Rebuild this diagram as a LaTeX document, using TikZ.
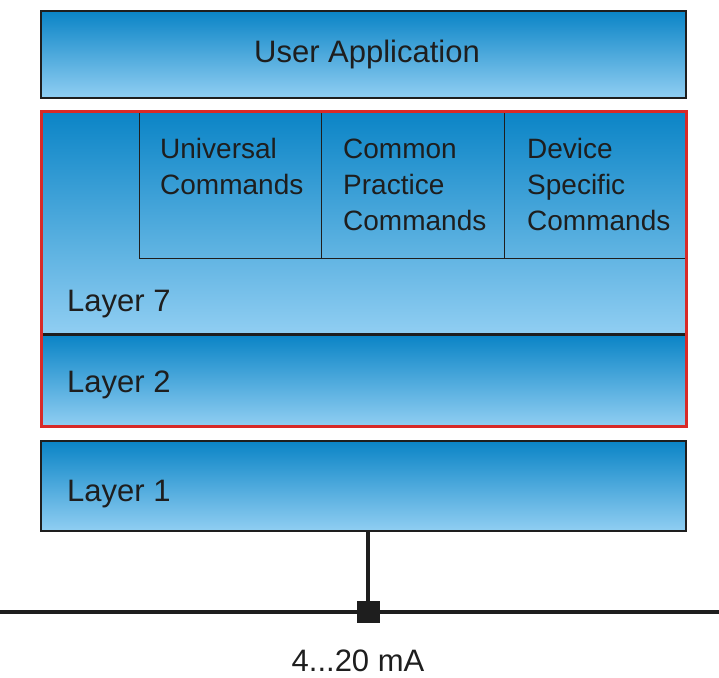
\documentclass[tikz,border=0pt]{standalone}
\usepackage{fontspec}
\setmainfont{Liberation Sans}
\definecolor{topblue}{HTML}{0A84C6}
\definecolor{botblue}{HTML}{90CEF2}
\definecolor{edge}{HTML}{1E1E1E}
\definecolor{redframe}{HTML}{D82A28}
\newcommand{\firstline}{\rule{0pt}{25pt}}
\tikzset{
  layerbox/.style={draw=edge, line width=1.6pt, top color=topblue, bottom color=botblue, anchor=north west, inner sep=0pt, minimum width=#1},
  cmdbox/.style={draw=edge, line width=1.3pt, anchor=north west, inner sep=0pt},
  lbl/.style={inner sep=0pt, font=\fontsize{31}{36}\selectfont, text=edge},
  mlbl/.style={inner sep=0pt, font=\fontsize{28}{36}\selectfont, text=edge, align=left, anchor=north west},
  wire/.style={draw=edge, line width=3.2pt}
}
\begin{document}
\begin{tikzpicture}[x=1pt,y=-1pt]
\useasboundingbox (0,0) rectangle (719,677);
% boxes
\node[layerbox=645pt, minimum height=87pt] (app) at (40,10) {};
\node[layerbox=645pt, minimum height=223pt] (l7) at (40,110) {};
\node[layerbox=645pt, minimum height=91pt] (l2) at (40,334) {};
\node[layerbox=645pt, minimum height=90pt] (l1) at (40,440) {};
\node[cmdbox, minimum width=182pt, minimum height=148pt] (univ) at (139,110) {};
\node[cmdbox, minimum width=183pt, minimum height=148pt] (cpc) at (321,110) {};
\node[cmdbox, minimum width=181pt, minimum height=148pt] (dsc) at (504,110) {};
\node[draw=redframe, line width=3pt, anchor=north west, inner sep=0pt, minimum width=645pt, minimum height=315pt] (frame) at (40,110) {};
% labels
\node[lbl, anchor=base] (tapp) at (367,63) {User Application};
\node[lbl, anchor=base west] (t7) at (67,311) {Layer 7};
\node[lbl, anchor=base west] (t2) at (67,392) {Layer 2};
\node[lbl, anchor=base west] (t1) at (67,501) {Layer 1};
\node[mlbl] (tuniv) at (160,133) {\firstline Universal\\Commands};
\node[mlbl] (tcpc) at (343,133) {\firstline Common\\Practice\\Commands};
\node[mlbl] (tdsc) at (527,133) {\firstline Device\\Specific\\Commands};
% bus
\coordinate (busL) at (0,612);
\coordinate (busR) at (719,612);
\node[fill=edge, inner sep=0pt, minimum width=23pt, minimum height=22pt] (tap) at (368,612) {};
\draw[wire] (busL) -- (busR);
\draw[wire] (l1.south -| tap) -- (tap.center);
\node[lbl, anchor=base, text depth=0pt] (tma) at (358,671) {4...20 mA};
\end{tikzpicture}
\end{document}
